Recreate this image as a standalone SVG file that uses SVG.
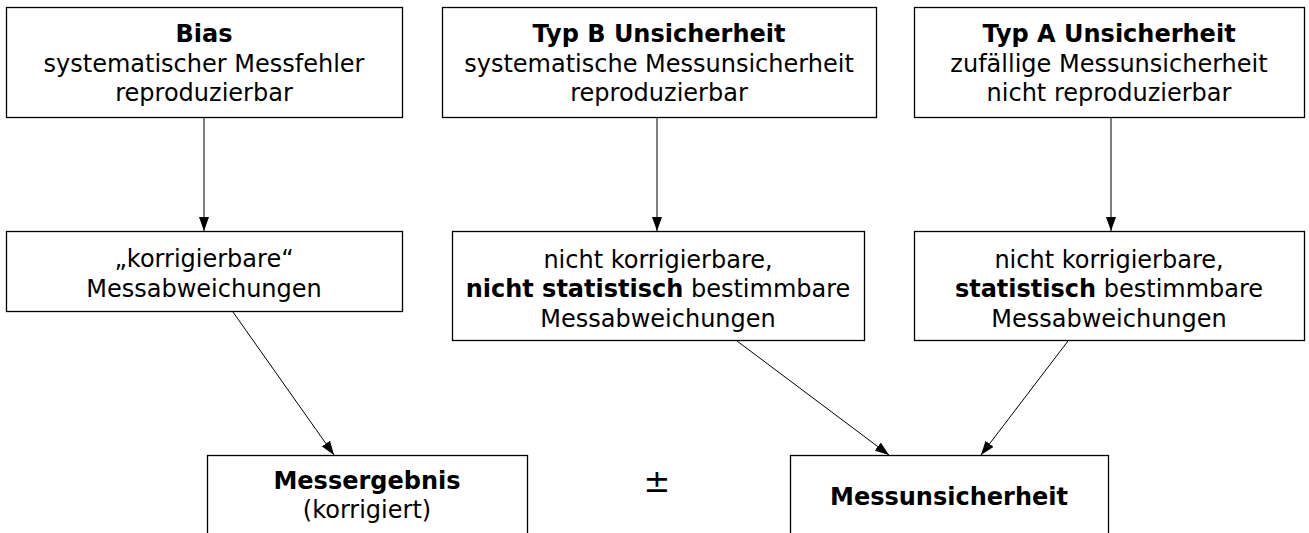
<svg xmlns="http://www.w3.org/2000/svg" width="1309" height="533" viewBox="0 0 1309 533">
<style>
.n rect{fill:#fff;stroke:#000;stroke-width:1.3}
text{font-family:"DejaVu Sans",sans-serif;font-size:24px;text-anchor:middle;fill:#000}
.b{font-weight:bold}
.c line{stroke:#000;stroke-width:1}
</style>
<defs>
<marker id="a" viewBox="0 0 14 10" refX="14" refY="5" markerWidth="14" markerHeight="10" markerUnits="userSpaceOnUse" orient="auto">
<path d="M0,0 L14,5 L0,10 Z" fill="#000"/>
</marker>
</defs>
<rect width="1309" height="533" fill="#fff"/>
<g id="bias" class="n">
<rect x="6.5" y="7.5" width="396" height="110"/>
<text x="204" y="42" class="b">Bias</text>
<text x="204" y="72">systematischer Messfehler</text>
<text x="204" y="101">reproduzierbar</text>
</g>
<g id="typb" class="n">
<rect x="442.5" y="7.5" width="434" height="110"/>
<text x="659" y="42" class="b">Typ B Unsicherheit</text>
<text x="659" y="72">systematische Messunsicherheit</text>
<text x="659" y="101">reproduzierbar</text>
</g>
<g id="typa" class="n">
<rect x="914.5" y="7.5" width="390" height="110"/>
<text x="1109" y="42" class="b">Typ A Unsicherheit</text>
<text x="1109" y="72">zufällige Messunsicherheit</text>
<text x="1109" y="101">nicht reproduzierbar</text>
</g>
<g id="korr" class="n">
<rect x="6.5" y="231.5" width="396" height="80"/>
<text x="204" y="267">„korrigierbare“</text>
<text x="204" y="297">Messabweichungen</text>
</g>
<g id="nichtstat" class="n">
<rect x="452.5" y="231.5" width="412" height="109"/>
<text x="658" y="268">nicht korrigierbare,</text>
<text x="658" y="297"><tspan class="b">nicht statistisch</tspan> bestimmbare</text>
<text x="658" y="327">Messabweichungen</text>
</g>
<g id="stat" class="n">
<rect x="914.5" y="231.5" width="390" height="109"/>
<text x="1109" y="268">nicht korrigierbare,</text>
<text x="1109" y="297"><tspan class="b">statistisch</tspan> bestimmbare</text>
<text x="1109" y="327">Messabweichungen</text>
</g>
<g id="ergebnis" class="n">
<rect x="207.5" y="455.5" width="320" height="100"/>
<text x="367" y="489" class="b">Messergebnis</text>
<text x="367" y="518">(korrigiert)</text>
</g>
<g id="pm">
<text x="657" y="492" style="font-size:32px">±</text>
</g>
<g id="unsicherheit" class="n">
<rect x="790.5" y="455.5" width="318" height="100"/>
<text x="949" y="505" class="b">Messunsicherheit</text>
</g>
<g class="c" id="connectors">
<line x1="204" y1="118" x2="204" y2="231" marker-end="url(#a)"/>
<line x1="657" y1="118" x2="657" y2="231" marker-end="url(#a)"/>
<line x1="1111" y1="118" x2="1111" y2="231" marker-end="url(#a)"/>
<line x1="233" y1="312" x2="334" y2="455" marker-end="url(#a)"/>
<line x1="737" y1="341" x2="889" y2="455" marker-end="url(#a)"/>
<line x1="1068" y1="341" x2="981" y2="455" marker-end="url(#a)"/>
</g>
</svg>
